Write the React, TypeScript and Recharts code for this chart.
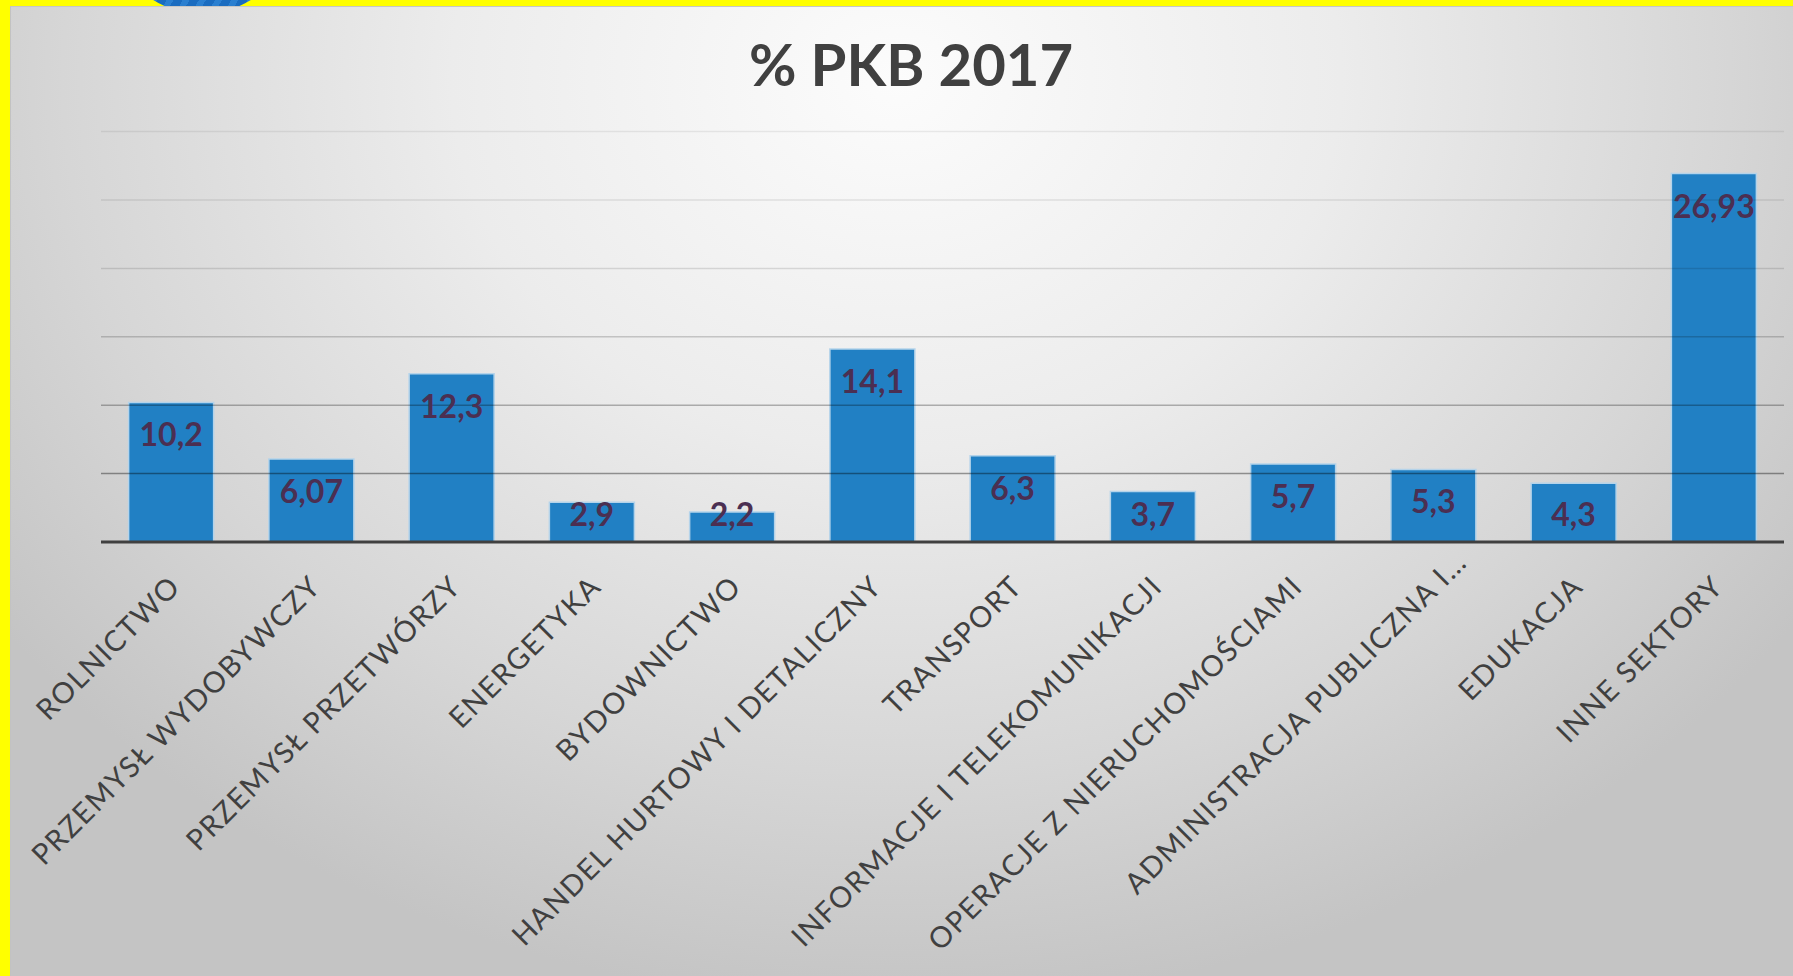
import React from 'react';
import { BarChart, Bar, XAxis, YAxis, ReferenceLine, LabelList } from 'recharts';

const categories = [
  'ROLNICTWO',
  'PRZEMYSŁ WYDOBYWCZY',
  'PRZEMYSŁ PRZETWÓRZY',
  'ENERGETYKA',
  'BYDOWNICTWO',
  'HANDEL HURTOWY I DETALICZNY',
  'TRANSPORT',
  'INFORMACJE I TELEKOMUNIKACJI',
  'OPERACJE Z NIERUCHOMOŚCIAMI',
  'ADMINISTRACJA PUBLICZNA I…',
  'EDUKACJA',
  'INNE SEKTORY',
];
const values = [10.2, 6.07, 12.3, 2.9, 2.2, 14.1, 6.3, 3.7, 5.7, 5.3, 4.3, 26.93];
const yTicks = [0, 5, 10, 15, 20, 25, 30];
const gridValues = [5, 10, 15, 20, 25, 30];
const gridOpacity = [0.38, 0.28, 0.18, 0.12, 0.09, 0.07];
const title = '% PKB 2017';

const data = categories.map((name, i) => ({ name, value: values[i] }));

const Tick = (props: any) => {
  const { x, y, payload } = props;
  const truncated = String(payload.value).endsWith('…');
  return (
    <g transform={`translate(${x + 4},${y + 39})`}>
      <text
        transform="rotate(-45)"
        textAnchor="end"
        dx={truncated ? 34 : 0}
        dy="0.35em"
        fontFamily="Lato"
        fontSize={29}
        fill="#404040"
        letterSpacing={1.5}
      >
        {payload.value}
      </text>
    </g>
  );
};

const ValueLabel = (props: any) => {
  const { x, y, width, height, value } = props;
  const bottom = y + height;
  const baseY = Math.min(y + 44, bottom - 16);
  return (
    <text
      x={x + width / 2}
      y={baseY}
      textAnchor="middle"
      fontFamily="Lato"
      fontWeight={700}
      fontSize={32}
      fill="#4b2f52"
    >
      {String(value).replace('.', ',')}
    </text>
  );
};

export default function App() {
  return (
    <div
      style={{
        position: 'absolute',
        left: 0,
        top: 0,
        width: 1793,
        height: 976,
        overflow: 'hidden',
        background:
          'radial-gradient(ellipse 62% 95% at 50% 8%, #fcfcfc 0%, #ececec 40%, #d6d6d6 75%, #c4c4c4 100%)',
      }}
    >
      <div style={{ position: 'absolute', left: 0, top: 0, width: 1793, height: 6, background: '#ffff00' }} />
      <div style={{ position: 'absolute', left: 10, top: 6, width: 1783, height: 1, background: '#c6c6c6' }} />
      <div style={{ position: 'absolute', left: 0, top: 0, width: 10, height: 976, background: '#ffff00' }} />
      <div style={{ position: 'absolute', left: 10, top: 6, width: 1, height: 970, background: '#c2c2c2' }} />
      <div style={{ position: 'absolute', left: 0, top: 0, width: 400, height: 6, overflow: 'hidden' }}>
        <div
          style={{
            position: 'absolute',
            left: 110,
            top: -170,
            width: 184,
            height: 184,
            borderRadius: '50%',
            background: 'repeating-linear-gradient(120deg, #1a6cc0 0px, #1a6cc0 8px, #2a7fd0 8px, #2a7fd0 14px)',
          }}
        />
      </div>
      <div
        style={{
          position: 'absolute',
          left: 0,
          top: 35,
          width: 1822,
          textAlign: 'center',
          fontFamily: 'Lato',
          fontWeight: 700,
          fontSize: 58,
          lineHeight: '58px',
          color: '#404040',
        }}
      >
        {title}
      </div>
      <div style={{ position: 'absolute', left: 0, top: 0 }}>
        <BarChart
          width={1793}
          height={976}
          data={data}
          margin={{ top: 131.6, right: 9, left: 101, bottom: 34 }}
          barCategoryGap="19.7%"
        >
          <YAxis hide domain={[0, 30]} ticks={yTicks} />
          <XAxis
            dataKey="name"
            height={400}
            interval={0}
            tickLine={false}
            tickSize={0}
            tickMargin={0}
            axisLine={{ stroke: '#404040', strokeWidth: 3 }}
            tick={<Tick />}
          />
          <Bar dataKey="value" fill="#2180c4" stroke="#b4d3ea" strokeWidth={1.5} isAnimationActive={false}>
            <LabelList dataKey="value" content={<ValueLabel />} />
          </Bar>
          {gridValues.map((v, i) => (
            <ReferenceLine key={v} y={v} stroke="#000000" strokeOpacity={gridOpacity[i]} strokeWidth={1.5} />
          ))}
        </BarChart>
      </div>
    </div>
  );
}
